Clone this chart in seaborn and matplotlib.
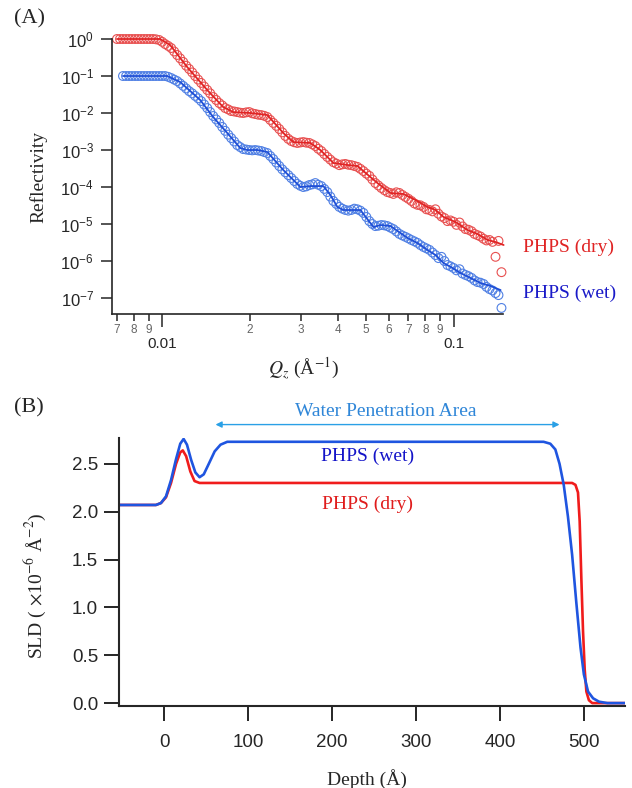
import matplotlib
matplotlib.use('Agg')
import matplotlib.pyplot as plt
import matplotlib.ticker as mticker
import seaborn as sns

# ---- (A) neutron reflectivity ----
qz_meas = [0.00700, 0.00734, 0.00770, 0.00808, 0.00847, 0.00888, 0.00931, 0.00977, 0.01024, 0.01074,
           0.01126, 0.01181, 0.01238, 0.01298, 0.01361, 0.01428, 0.01497, 0.01570, 0.01646, 0.01726,
           0.01810, 0.01898, 0.01990, 0.02087, 0.02188, 0.02295, 0.02406, 0.02523, 0.02646, 0.02774,
           0.02909, 0.03050, 0.03199, 0.03354, 0.03517, 0.03688, 0.03867, 0.04055, 0.04252, 0.04459,
           0.04676, 0.04903, 0.05141, 0.05391, 0.05653, 0.05928, 0.06216, 0.06518, 0.06835, 0.07167,
           0.07515, 0.07881, 0.08264, 0.08665, 0.09087, 0.09528, 0.09991, 0.1048, 0.1099, 0.1152,
           0.1208, 0.1267, 0.1328, 0.1393, 0.1460]
refl_dry_meas = [1.0, 1.0, 1.0, 1.0, 1.0, 1.0, 1.0, 0.94, 0.73, 0.57,
                 0.37, 0.24, 0.155, 0.10, 0.065, 0.042, 0.027, 0.0186, 0.0136, 0.0113,
                 0.0106, 0.0100, 0.0106, 0.0094, 0.0088, 0.0078, 0.0054, 0.0037, 0.0024, 0.00175,
                 0.00155, 0.00164, 0.00155, 0.00128, 0.00094, 0.00065, 0.00047, 0.00039, 0.00042, 0.00039,
                 0.00035, 0.00027, 0.00020, 0.000128, 9.4e-5, 7.3e-5, 6.5e-5, 6.9e-5, 5.4e-5, 4.2e-5,
                 3.3e-5, 2.9e-5, 2.4e-5, 2.5e-5, 1.6e-5, 1.2e-5, 1.15e-5, 1.1e-5, 7.3e-6, 6.4e-6,
                 5.0e-6, 4.0e-6, 3.7e-6, 1.3e-6, 5.0e-7]
refl_wet_meas = [float('nan'), 0.1, 0.1, 0.1, 0.1, 0.1, 0.1, 0.1, 0.1, 0.088,
                 0.073, 0.054, 0.039, 0.029, 0.021, 0.0136, 0.0083, 0.0054, 0.0033, 0.0021,
                 0.00136, 0.00106, 0.0010, 0.0010, 0.00094, 0.00083, 0.00057, 0.00037, 0.00025, 0.000175,
                 0.000121, 0.000100, 0.000113, 0.000128, 0.000106, 7.3e-5, 4.2e-5, 2.9e-5, 2.4e-5, 2.4e-5,
                 2.5e-5, 2.0e-5, 1.2e-5, 8.8e-6, 9.4e-6, 8.8e-6, 7.3e-6, 5.4e-6, 4.5e-6, 3.7e-6,
                 3.1e-6, 2.4e-6, 2.0e-6, 1.45e-6, 1.3e-6, 7.8e-7, 6.5e-7, 6.0e-7, 4.2e-7, 3.5e-7,
                 2.7e-7, 2.4e-7, 1.75e-7, 1.36e-7, 5.4e-8]

# second, interleaved set of measured points
qz_meas_b = [0.00717, 0.00752, 0.00788, 0.00827, 0.00867, 0.00909, 0.00953, 0.01000, 0.01049, 0.01100,
             0.01153, 0.01209, 0.01268, 0.01329, 0.01394, 0.01462, 0.01533, 0.01608, 0.01686, 0.01767,
             0.01853, 0.01944, 0.02038, 0.02137, 0.02241, 0.02350, 0.02464, 0.02584, 0.02710, 0.02841,
             0.02979, 0.03123, 0.03276, 0.03434, 0.03601, 0.03777, 0.03960, 0.04152, 0.04354, 0.04566,
             0.04788, 0.05021, 0.05264, 0.05520, 0.05789, 0.06070, 0.06365, 0.06674, 0.06999, 0.07339,
             0.07695, 0.08070, 0.08462, 0.08873, 0.09305, 0.09757, 0.1023, 0.1073, 0.1125, 0.1180,
             0.1237, 0.1297, 0.1360, 0.1426]
refl_dry_meas_b = [1.0, 1.0, 1.0, 1.0, 1.0, 1.0, 0.98, 0.84, 0.65, 0.46,
                   0.30, 0.19, 0.125, 0.080, 0.052, 0.034, 0.0225, 0.0160, 0.0125, 0.0110,
                   0.0102, 0.0104, 0.0098, 0.0090, 0.0084, 0.0065, 0.0045, 0.0030, 0.0020, 0.00162,
                   0.00160, 0.00158, 0.00142, 0.00108, 0.00078, 0.00055, 0.00043, 0.00041, 0.00040, 0.00037,
                   0.00031, 0.00023, 0.000160, 0.000110, 8.2e-5, 6.9e-5, 7.2e-5, 6.1e-5, 4.8e-5, 3.6e-5,
                   3.2e-5, 2.5e-5, 2.2e-5, 1.9e-5, 1.45e-5, 1.25e-5, 9.5e-6, 8.6e-6, 7.0e-6, 5.4e-6,
                   4.6e-6, 3.6e-6, 3.3e-6, 3.5e-6]
refl_wet_meas_b = [float('nan'), 0.1, 0.1, 0.1, 0.1, 0.1, 0.1, 0.1, 0.095, 0.080,
                   0.063, 0.046, 0.034, 0.025, 0.017, 0.0106, 0.0067, 0.0042, 0.0026, 0.0017,
                   0.00120, 0.00103, 0.00098, 0.00097, 0.00088, 0.00069, 0.00046, 0.00030, 0.00021, 0.000145,
                   0.000108, 0.000104, 0.000118, 0.000115, 8.9e-5, 5.5e-5, 3.5e-5, 2.6e-5, 2.3e-5, 2.6e-5,
                   2.3e-5, 1.55e-5, 1.0e-5, 9.0e-6, 9.2e-6, 8.0e-6, 6.3e-6, 4.9e-6, 4.1e-6, 3.4e-6,
                   2.7e-6, 2.2e-6, 1.7e-6, 1.2e-6, 1.0e-6, 7.2e-7, 5.6e-7, 4.6e-7, 3.9e-7, 3.0e-7,
                   2.6e-7, 2.0e-7, 1.6e-7, 1.2e-7]

qz_fit_dry = [0.00700, 0.00984, 0.01065, 0.01219, 0.01428, 0.01620, 0.01754, 0.02007, 0.02296, 0.02605,
              0.02820, 0.03226, 0.03491, 0.03869, 0.04323, 0.04679, 0.05482, 0.06074, 0.06733, 0.07402,
              0.08140, 0.08675, 0.09240, 0.1016, 0.1117, 0.1209, 0.1309, 0.1394, 0.1485]
refl_fit_dry = [1.0, 1.0, 0.689, 0.175, 0.0418, 0.0145, 0.0106, 0.0100, 0.00883, 0.00288,
                0.00164, 0.00155, 0.001, 4.46e-4, 3.94e-4, 3.70e-4, 1.28e-4, 6.89e-5, 6.47e-5, 4.45e-5,
                2.88e-5, 2.39e-5, 1.55e-5, 1.13e-5, 6.89e-6, 5.37e-6, 3.70e-6, 3.26e-6, 2.71e-6]
qz_fit_wet = [0.00734, 0.01040, 0.01153, 0.01351, 0.01497, 0.01673, 0.01854, 0.01959, 0.02121, 0.02296,
              0.02605, 0.02820, 0.02980, 0.03226, 0.03575, 0.03779, 0.03995, 0.04188, 0.04790, 0.05310,
              0.05613, 0.06074, 0.06949, 0.07520, 0.08140, 0.08675, 0.09240, 0.09921, 0.1057, 0.1144,
              0.1238, 0.1340, 0.1450]
refl_fit_wet = [0.1, 0.1, 0.0689, 0.0225, 0.0078, 0.00288, 0.00113, 0.001, 0.001, 8.83e-4,
                2.88e-4, 1.55e-4, 1.0e-4, 1.06e-4, 1.06e-4, 6.08e-5, 2.88e-5, 2.39e-5, 2.39e-5, 8.30e-6,
                9.39e-6, 8.83e-6, 4.19e-6, 3.06e-6, 1.98e-6, 1.45e-6, 8.83e-7, 6.47e-7, 4.74e-7, 3.47e-7,
                2.54e-7, 2.11e-7, 1.64e-7]

# ---- (B) SLD depth profiles ----
depth_dry = [-54, -10, -4, 2, 8, 14, 19, 22, 26, 31, 36, 42, 486, 490, 493, 495, 497, 499, 501, 503, 506, 510, 549]
sld_dry = [2.07, 2.07, 2.09, 2.15, 2.30, 2.50, 2.62, 2.64, 2.58, 2.42, 2.32, 2.30, 2.30, 2.28, 2.20, 1.90,
           1.30, 0.75, 0.35, 0.12, 0.03, 0.0, 0.0]
depth_wet = [-54, -10, -4, 2, 8, 14, 19, 23, 27, 32, 37, 42, 47, 53, 60, 67, 75, 452, 460, 466,
             471, 476, 481, 486, 491, 496, 500, 505, 511, 518, 528, 549]
sld_wet = [2.07, 2.07, 2.09, 2.16, 2.33, 2.55, 2.71, 2.76, 2.70, 2.54, 2.41, 2.36, 2.39, 2.50, 2.63, 2.70,
           2.73, 2.73, 2.71, 2.65, 2.50, 2.28, 1.95, 1.55, 1.05, 0.58, 0.30, 0.12, 0.05, 0.015, 0.0, 0.0]

# tick labels
x_major = [0.01, 0.1]
x_major_labels = ['0.01', '0.1']
x_minor = [0.007, 0.008, 0.009, 0.02, 0.03, 0.04, 0.05, 0.06, 0.07, 0.08, 0.09]
x_minor_labels = ['7', '8', '9', '2', '3', '4', '5', '6', '7', '8', '9']
y_decades = [1e0, 1e-1, 1e-2, 1e-3, 1e-4, 1e-5, 1e-6, 1e-7]
y_decade_labels = [r'$10^{0}$', r'$10^{-1}$', r'$10^{-2}$', r'$10^{-3}$',
                   r'$10^{-4}$', r'$10^{-5}$', r'$10^{-6}$', r'$10^{-7}$']
depth_ticks = [0, 100, 200, 300, 400, 500]
sld_ticks = [0.0, 0.5, 1.0, 1.5, 2.0, 2.5]

sns.set_style('ticks')
plt.rcParams['font.family'] = ['Liberation Sans', 'DejaVu Sans']
plt.rcParams['mathtext.fontset'] = 'custom'
plt.rcParams['mathtext.rm'] = 'Liberation Sans'
plt.rcParams['mathtext.it'] = 'Liberation Sans:italic'
plt.rcParams['mathtext.bf'] = 'Liberation Sans:bold'

SERIF = 'Liberation Serif'
RED_LINE = '#e02424'
RED_PT = '#e85050'
BLUE_LINE = '#1f4fd6'
BLUE_PT = '#5080e4'
RED_B = '#f01c1c'
BLUE_B = '#1f55e0'

fig = plt.figure(figsize=(6.32, 7.88), dpi=100)

# ---------------- panel A ----------------
axA = fig.add_axes([0.1772, 0.6015, 0.619, 0.349])
axA.set_xscale('log')
axA.set_yscale('log')

pt_kw = dict(marker='o', s=40, linewidth=0.8, clip_on=False, zorder=2)
sns.scatterplot(x=qz_meas, y=refl_dry_meas, ax=axA, color=RED_PT,
                facecolor='none', edgecolor=RED_PT, **pt_kw)
sns.scatterplot(x=qz_meas_b, y=refl_dry_meas_b, ax=axA, color=RED_PT,
                facecolor='none', edgecolor=RED_PT, **pt_kw)
sns.scatterplot(x=qz_meas, y=refl_wet_meas, ax=axA, color=BLUE_PT,
                facecolor='none', edgecolor=BLUE_PT, **pt_kw)
sns.scatterplot(x=qz_meas_b, y=refl_wet_meas_b, ax=axA, color=BLUE_PT,
                facecolor='none', edgecolor=BLUE_PT, **pt_kw)
sns.lineplot(x=qz_fit_dry, y=refl_fit_dry, ax=axA, color=RED_LINE, lw=1.3,
             sort=False, estimator=None, zorder=3, clip_on=False)
sns.lineplot(x=qz_fit_wet, y=refl_fit_wet, ax=axA, color=BLUE_LINE, lw=1.3,
             sort=False, estimator=None, zorder=3, clip_on=False)

axA.set_xticks(x_major, labels=x_major_labels)
axA.set_xticks(x_minor, labels=x_minor_labels, minor=True)
axA.set_yticks(y_decades, labels=y_decade_labels)
axA.yaxis.set_minor_locator(mticker.NullLocator())
axA.set_xlim(0.00673, 0.148)
axA.set_ylim(3.7e-8, 1.0)

axA.tick_params(axis='x', which='major', length=9.5, width=1.1, pad=7, labelsize=11)
axA.tick_params(axis='x', which='minor', length=5, width=1.1, pad=2, labelsize=8.5,
                labelcolor='#666666')
axA.tick_params(axis='y', which='major', length=8, width=1.1, pad=5, labelsize=12)
sns.despine(ax=axA)
for side in ['left', 'bottom']:
    axA.spines[side].set_linewidth(1.2)

axA.set_ylabel('Reflectivity', fontfamily=SERIF, fontsize=14)
axA.yaxis.set_label_coords(-0.164, 0.5)
axA.set_xlabel(r'$Q_z$ (Å$^{-1}$)', fontfamily=SERIF, math_fontfamily='stix', fontsize=14)
axA.xaxis.set_label_coords(0.49, -0.15)

fig.text(523 / 632, 1 - 247 / 788, 'PHPS (dry)', color=RED_LINE, ha='left', va='center',
         fontfamily=SERIF, fontsize=14)
fig.text(523 / 632, 1 - 293 / 788, 'PHPS (wet)', color='#1a1ac8', ha='left', va='center',
         fontfamily=SERIF, fontsize=14)
fig.text(0.022, 0.976, '(A)', fontfamily=SERIF, fontsize=16, va='center', ha='left')

# ---------------- panel B ----------------
axB = fig.add_axes([0.1883, 0.1041, 0.8006, 0.3401])
sns.lineplot(x=depth_dry, y=sld_dry, ax=axB, color=RED_B, lw=1.9, sort=False, estimator=None)
sns.lineplot(x=depth_wet, y=sld_wet, ax=axB, color=BLUE_B, lw=1.9, sort=False, estimator=None)

axB.set_xlim(-54, 549)
axB.set_ylim(-0.03, 2.77)
axB.set_xticks(depth_ticks)
axB.set_yticks(sld_ticks, labels=['%.1f' % v for v in sld_ticks])
axB.tick_params(axis='x', length=11, width=1.4, pad=9, labelsize=13.5)
axB.tick_params(axis='y', length=11, width=1.4, pad=4, labelsize=13.5)
sns.despine(ax=axB)
for side in ['left', 'bottom']:
    axB.spines[side].set_linewidth(1.5)

axB.set_xlabel('Depth (Å)', fontfamily=SERIF, fontsize=14)
axB.xaxis.set_label_coords(0.49, -0.235)
axB.set_ylabel(r'SLD ( $\times$10$^{-6}$ Å$^{-2}$)', fontfamily=SERIF, math_fontfamily='stix',
               fontsize=14)
axB.yaxis.set_label_coords(-0.140, 0.45)

axB.text(242, 2.58, 'PHPS (wet)', color='#1414c8', ha='center', va='center',
         fontfamily=SERIF, fontsize=14)
axB.text(242, 2.08, 'PHPS (dry)', color='#e01c1c', ha='center', va='center',
         fontfamily=SERIF, fontsize=14)
axB.text(264, 3.05, 'Water Penetration Area', color='#2f86d8', ha='center', va='center',
         fontfamily=SERIF, fontsize=14)
axB.annotate('', xy=(61, 2.91), xytext=(471, 2.91), annotation_clip=False,
             arrowprops=dict(arrowstyle='<|-|>', color='#2aa0e6', lw=1.0,
                             mutation_scale=9, shrinkA=0, shrinkB=0))
fig.text(0.022, 1 - 408 / 788, '(B)', fontfamily=SERIF, fontsize=16, va='center', ha='left')

fig.savefig('out.png', dpi=100)
